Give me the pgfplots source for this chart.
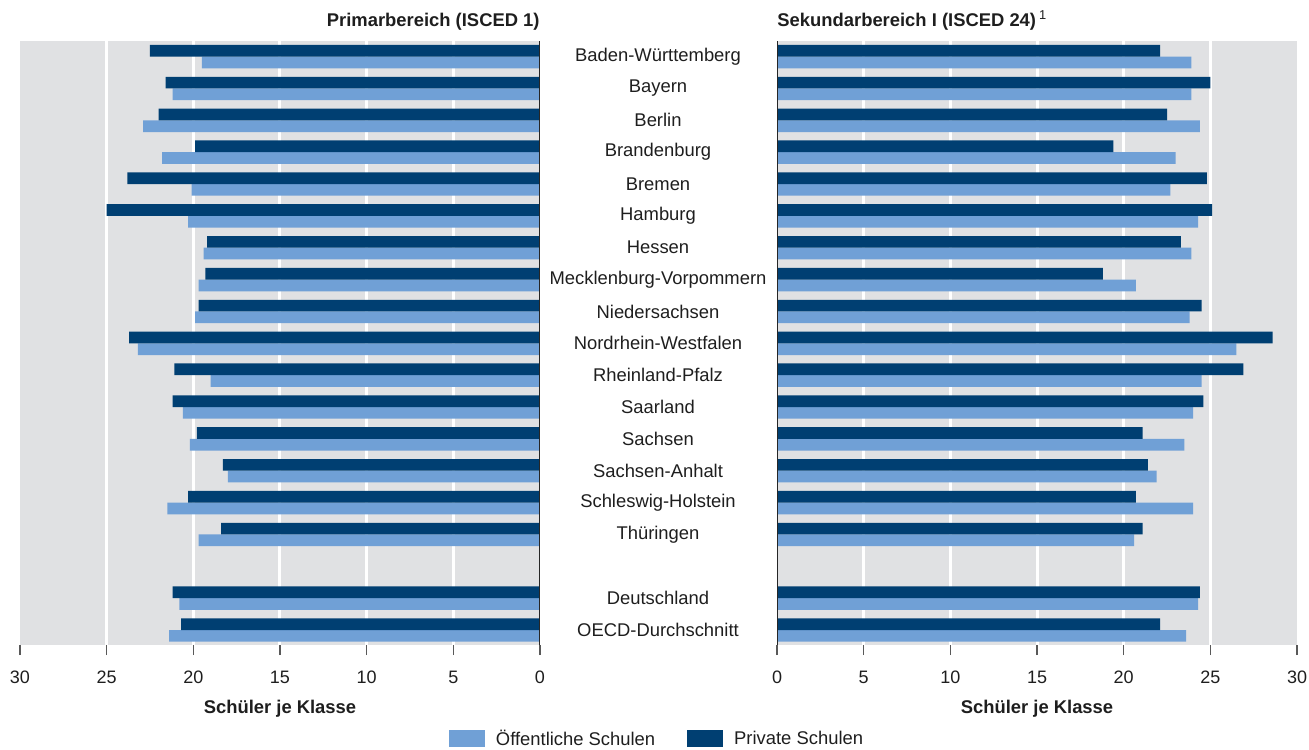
\documentclass[border=0pt]{standalone}
\usepackage{fontspec}
\setmainfont{Liberation Sans}
\usepackage{pgfplots}
\usepackage{pgfplotstable}
\pgfplotsset{compat=1.18}
\definecolor{oeffcol}{RGB}{112,160,214}
\definecolor{privcol}{RGB}{0,63,114}
\definecolor{bggray}{RGB}{224,225,227}
\definecolor{txt}{RGB}{30,30,30}

% pos = row from the bottom (1 empty row above Deutschland)
\pgfplotstableread{
pos oeff priv
18 19.5 22.5
17 21.2 21.6
16 22.9 22.0
15 21.8 19.9
14 20.1 23.8
13 20.3 25.0
12 19.4 19.2
11 19.7 19.3
10 19.9 19.7
9  23.2 23.7
8  19.0 21.1
7  20.6 21.2
6  20.2 19.8
5  18.0 18.3
4  21.5 20.3
3  19.7 18.4
1  20.8 21.2
0  21.4 20.7
}\primar

\pgfplotstableread{
pos oeff priv
18 23.9 22.1
17 23.9 25.0
16 24.4 22.5
15 23.0 19.4
14 22.7 24.8
13 24.3 25.1
12 23.9 23.3
11 20.7 18.8
10 23.8 24.5
9  26.5 28.6
8  24.5 26.9
7  24.0 24.6
6  23.5 21.1
5  21.9 21.4
4  24.0 20.7
3  20.6 21.1
1  24.3 24.4
0  23.6 22.1
}\sekundar

\pgfplotsset{
  panel/.style={
    scale only axis, width=260pt, height=302pt,
    xmin=0, xmax=30, ymin=-0.47, ymax=18.49,
    axis x line*=bottom, axis y line*=left, axis line style={draw=none},
    axis background/.style={fill=bggray},
    xtick={0,5,...,30},
    minor xtick={5,10,...,25}, xminorgrids,
    minor grid style={white, line width=1.5pt},
    minor tick length=0pt, major tick length=5pt, tick align=outside,
    xtick style={draw=black!65, line width=0.8pt},
    ytick style={draw=none},
    bar width=5.85pt,
    /pgf/number format/assume math mode=true,
    tick label style={font=\fontsize{9}{10}\selectfont, text=txt},
    xticklabel style={yshift=-4.5pt},
    xlabel={\bfseries Schüler je Klasse},
    xlabel style={at={(axis description cs:0.5,0)}, anchor=base, yshift=-34pt,
      font=\fontsize{9.2}{11}\selectfont, text=txt},
    title style={font=\fontsize{9.2}{11}\selectfont\bfseries, text=txt, inner sep=0pt},
  },
  oeffbar/.style={xbar, bar shift=-2.925pt, fill=oeffcol, draw=none,
    legend image code/.code={\fill[oeffcol] (0pt,-4.25pt) rectangle (18pt,4.25pt);}},
  privbar/.style={xbar, bar shift=2.925pt, fill=privcol, draw=none,
    legend image code/.code={\fill[privcol] (0pt,-4.25pt) rectangle (18pt,4.25pt);}},
}

\begin{document}
\begin{tikzpicture}
\useasboundingbox (-10pt,-52pt) rectangle (644.5pt,322.5pt);

% Primarbereich
\begin{axis}[panel, at={(0,0)}, anchor=south west, x dir=reverse,
  ytick=\empty,
  title={Primarbereich (ISCED 1)},
  title style={at={(axis description cs:1,1)}, anchor=base east, yshift=1pt},
]
\addplot[oeffbar] table[x=oeff, y=pos] {\primar};
\addplot[privbar] table[x=priv, y=pos] {\primar};
\draw[black!85, line width=0.9pt] (axis cs:0,-0.47) -- (axis cs:0,18.49);
\end{axis}

% Sekundarbereich I
\begin{axis}[panel, at={(378.5pt,0)}, anchor=south west,
  ytick={0,1,3,4,5,6,7,8,9,10,11,12,13,14,15,16,17,18},
  yticklabels={OECD-Durchschnitt, Deutschland, Thüringen, Schleswig-Holstein,
    Sachsen-Anhalt, Sachsen, Saarland, Rheinland-Pfalz, Nordrhein-Westfalen,
    Niedersachsen, Mecklenburg-Vorpommern, Hessen, Hamburg, Bremen,
    Brandenburg, Berlin, Bayern, Baden-Württemberg},
  yticklabel style={anchor=center, xshift=-54.5pt, font=\fontsize{9.2}{11}\selectfont},
  title={Sekundarbereich I (ISCED 24)\kern1.5pt\textsuperscript{\mdseries 1}},
  title style={at={(axis description cs:0,1)}, anchor=base west, yshift=1pt},
  legend style={at={(axis description cs:-0.2288,-0.1556)}, anchor=center,
    draw=none, fill=none, font=\fontsize{9.2}{11}\selectfont, text=txt,
    /tikz/every odd column/.append style={column sep=3.5pt},
    /tikz/every even column/.append style={column sep=14pt}},
  legend columns=2,
]
\addplot[oeffbar] table[x=oeff, y=pos] {\sekundar};
\addplot[privbar] table[x=priv, y=pos] {\sekundar};
\draw[black!85, line width=0.9pt] (axis cs:0,-0.47) -- (axis cs:0,18.49);
\legend{Öffentliche Schulen, Private Schulen}
\end{axis}
\end{tikzpicture}
\end{document}
